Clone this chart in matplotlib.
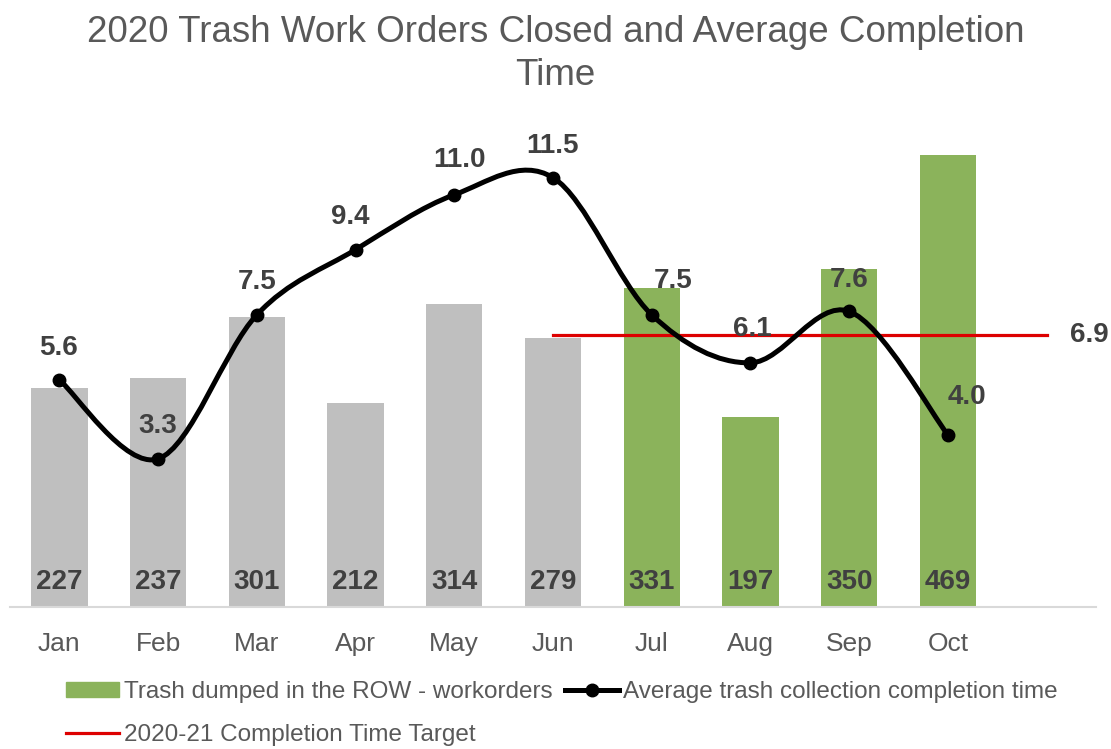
import matplotlib
matplotlib.use('Agg')
import matplotlib.pyplot as plt
from matplotlib.path import Path
from matplotlib.patches import PathPatch, Patch
from matplotlib.lines import Line2D

plt.rcParams['font.family'] = ['Liberation Sans', 'DejaVu Sans']

# data
months = ['Jan', 'Feb', 'Mar', 'Apr', 'May', 'Jun', 'Jul', 'Aug', 'Sep', 'Oct']
workorders = [227, 237, 301, 212, 314, 279, 331, 197, 350, 469]
completion_days = [5.6, 3.3, 7.5, 9.4, 11.0, 11.5, 7.5, 6.1, 7.6, 4.0]
target = 6.9
target_start = 'Jun'

# label nudges in pixels (dx, dy) for the line values
line_label_offsets = [(-1, 32), (0, 33), (0, 33), (-5, 33), (5, 35),
                      (0, 32), (21, 34), (2, 34), (0, 31), (19, 38)]

GREY = '#BFBFBF'
GREEN = '#8BB35B'
RED = '#DD0000'
TXT = '#404040'
LIGHT = '#595959'


def smooth_path(xs, ys):
    """Excel-style smoothed line as cubic Bezier segments (Catmull-Rom)."""
    pts = list(zip(xs, ys))
    verts = [pts[0]]
    codes = [Path.MOVETO]
    n = len(pts)
    for i in range(n - 1):
        p0 = pts[i - 1] if i > 0 else pts[i]
        p1 = pts[i]
        p2 = pts[i + 1]
        p3 = pts[i + 2] if i + 2 < n else pts[i + 1]
        c1 = (p1[0] + (p2[0] - p0[0]) / 6, p1[1] + (p2[1] - p0[1]) / 6)
        c2 = (p2[0] - (p3[0] - p1[0]) / 6, p2[1] - (p3[1] - p1[1]) / 6)
        verts += [c1, c2, p2]
        codes += [Path.CURVE4] * 3
    return Path(verts, codes)


fig = plt.figure(figsize=(11.11, 7.49), dpi=100)
ax = fig.add_axes([10 / 1111, 1 - 607 / 749, 1086 / 1111, 487 / 749])
ax2 = ax.twinx()

x = list(range(len(months)))
colors = [GREY if i < 6 else GREEN for i in x]
ax.bar(x, workorders, width=0.57, color=colors, zorder=1)
for xi, v in zip(x, workorders):
    ax.annotate(str(v), (xi, 0), xytext=(0, 18), textcoords='offset points',
                ha='center', va='center', fontsize=20, fontweight='bold', color=TXT)

ax.set_xlim(-0.5, 10.5)
ax.set_ylim(0, 505)
ax.set_xticks(x)
ax.set_xticklabels(months, fontsize=19, color=LIGHT)
ax.tick_params(axis='x', length=0, pad=18)
ax.set_yticks([])
for s in ['top', 'left', 'right']:
    ax.spines[s].set_visible(False)
ax.spines['bottom'].set_color('#D9D9D9')
ax.spines['bottom'].set_linewidth(1.5)

# secondary axis: completion time
ax2.set_ylim(-1.02, 13.18)
ax2.set_yticks([])
for s in ax2.spines.values():
    s.set_visible(False)

xs = months.index(target_start)
ax2.plot([xs, len(months)], [target, target], color=RED, lw=2.3, zorder=2)
ax2.annotate(f'{target:.1f}', (len(months), target), xytext=(31, 0),
             textcoords='offset points', ha='center', va='center',
             fontsize=20, fontweight='bold', color=TXT, annotation_clip=False)

ax2.add_patch(PathPatch(smooth_path(x, completion_days), fill=False,
                        edgecolor='black', lw=3.6, zorder=3, capstyle='round'))
ax2.plot(x, completion_days, 'o', color='black', ms=9, zorder=4)
for xi, v, (dx, dy) in zip(x, completion_days, line_label_offsets):
    ax2.annotate(f'{v:.1f}', (xi, v), xytext=(dx * 0.72, dy * 0.72),
                 textcoords='offset points', ha='center', va='center',
                 fontsize=20, fontweight='bold', color=TXT, annotation_clip=False)

fig.text(0.5, 1 - 15 / 749, '2020 Trash Work Orders Closed and Average Completion\nTime',
         ha='center', va='top', fontsize=26.5, color=LIGHT, linespacing=1.3)

handles = [Patch(color=GREEN),
           Line2D([], [], color=RED, lw=2.3),
           Line2D([], [], color='black', lw=3.6, marker='o', ms=9)]
labels = ['Trash dumped in the ROW - workorders',
          '2020-21 Completion Time Target',
          'Average trash collection completion time']
fig.legend(handles, labels, loc='upper left', bbox_to_anchor=(66 / 1111, 1 - 681 / 749),
           ncol=2, frameon=False, fontsize=17.5, labelcolor=LIGHT, handlelength=2.2,
           handleheight=0.55, handletextpad=0.2, columnspacing=0.5, labelspacing=0.85,
           borderpad=0, borderaxespad=0)

fig.savefig('out.png', dpi=100)
